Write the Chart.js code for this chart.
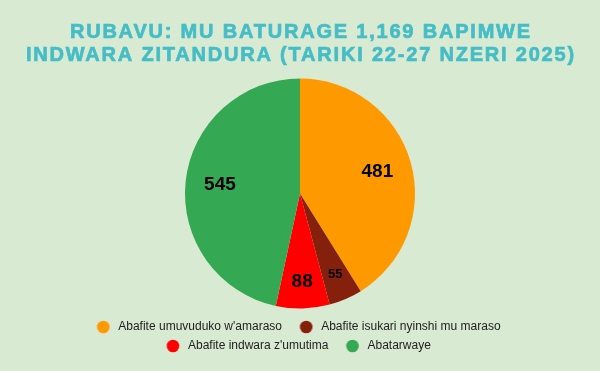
<!DOCTYPE html>
<html>
<head>
<meta charset="utf-8">
<script src="https://cdn.jsdelivr.net/npm/chart.js@4"></script>
<style>
  html, body { margin: 0; padding: 0; background: #d9ead3; }
  #wrap { width: 600px; height: 371px; }
</style>
</head>
<body>
<div id="wrap"><canvas id="pieChart"></canvas></div>
<script>
const titleLines = ['RUBAVU: MU BATURAGE 1,169 BAPIMWE', 'INDWARA ZITANDURA (TARIKI 22-27 NZERI 2025)'];
const labels = [
    "Abafite umuvuduko w'amaraso",
    'Abafite isukari nyinshi mu maraso',
    "Abafite indwara z'umutima",
    'Abatarwaye'
];
const counts = [481, 55, 88, 545];
const colors = ['#ff9900', '#85200c', '#ff0000', '#34a853'];
const labelSizes = [19, 13, 19, 19];

// legend dots as small canvases, so the gap before each dot can be set
function makeDot(color) {
    const c = document.createElement('canvas');
    c.width = 24;
    c.height = 14;
    const g = c.getContext('2d');
    g.fillStyle = color;
    g.beginPath();
    g.arc(12.75, 7, 6.3, 0, Math.PI * 2);
    g.fill();
    return c;
}
const dots = colors.map(makeDot);

// wide-spaced title, drawn by hand so letter spacing can be set
const spacedTitle = {
    id: 'spacedTitle',
    afterDraw(chart) {
        const ctx = chart.ctx;
        ctx.save();
        ctx.font = 'bold 20px "Liberation Sans", Arial, sans-serif';
        ctx.letterSpacing = '1.8px';
        ctx.fillStyle = '#46bdc6';
        ctx.strokeStyle = '#46bdc6';
        ctx.lineWidth = 0.7;
        ctx.textBaseline = 'middle';
        ctx.textAlign = 'left';
        titleLines.forEach((line, i) => {
            const w = ctx.measureText(line).width - 1.8;
            const x = chart.width / 2 - w / 2;
            const y = 32 + i * 23;
            ctx.fillText(line, x, y);
            ctx.strokeText(line, x, y);
        });
        ctx.restore();
    }
};

// numbers drawn inside each slice
const sliceLabels = {
    id: 'sliceLabels',
    afterDatasetsDraw(chart) {
        const ctx = chart.ctx;
        const meta = chart.getDatasetMeta(0);
        const total = counts.reduce((a, b) => a + b, 0);
        ctx.save();
        ctx.fillStyle = '#000';
        ctx.textAlign = 'center';
        ctx.textBaseline = 'middle';
        meta.data.forEach((arc, i) => {
            const mid = (arc.startAngle + arc.endAngle) / 2;
            const r = arc.outerRadius * (counts[i] / total < 0.1 ? 0.77 : 0.70);
            ctx.font = 'bold ' + labelSizes[i] + 'px "Liberation Sans", Arial, sans-serif';
            ctx.fillText(String(counts[i]), arc.x + Math.cos(mid) * r, arc.y + Math.sin(mid) * r);
        });
        ctx.restore();
    }
};

const ctx = document.getElementById('pieChart').getContext('2d');
new Chart(ctx, {
    type: 'pie',
    data: {
        labels: labels,
        datasets: [{
            data: counts,
            backgroundColor: colors,
            borderWidth: 0,
            radius: 115
        }]
    },
    options: {
        responsive: true,
        maintainAspectRatio: false,
        animation: false,
        layout: { padding: { top: 73, bottom: 9, left: 75, right: 75 } },
        plugins: {
            title: { display: false },
            legend: {
                position: 'bottom',
                labels: {
                    usePointStyle: true,
                    pointStyleWidth: 19.5,
                    boxHeight: 8.5,
                    color: '#222',
                    padding: 7,
                    font: { family: '"Liberation Sans", Arial, sans-serif', size: 12 },
                    generateLabels: () => labels.map((text, i) => ({
                        text: text + '\u00a0\u00a0',
                        fillStyle: colors[i],
                        strokeStyle: colors[i],
                        lineWidth: 0,
                        pointStyle: dots[i],
                        fontColor: '#222',
                        hidden: false,
                        index: i
                    }))
                }
            },
            tooltip: { enabled: false }
        }
    },
    plugins: [sliceLabels, spacedTitle]
});
</script>
</body>
</html>
